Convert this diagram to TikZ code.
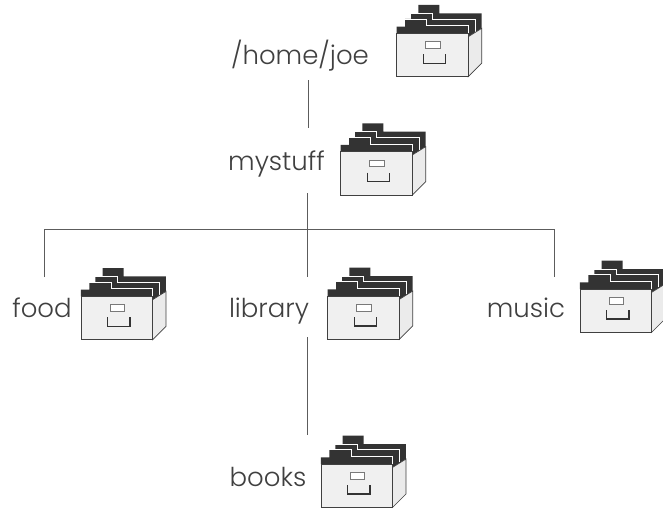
\documentclass[tikz,border=0pt]{standalone}
\usepackage{fontspec}
\setmainfont{Poppins Light}
\definecolor{ink}{gray}{0.25}
\definecolor{dark}{gray}{0.2}
\definecolor{paper}{gray}{0.94}
\definecolor{sidec}{gray}{0.92}
\tikzset{
 lbl/.style={font=\fontsize{26}{28}\selectfont, text=ink, inner sep=0pt, anchor=base},
 conn/.style={draw=ink!85, line width=0.8pt},
 drawerline/.style={draw=ink, line width=0.7pt},
 pics/drawer/.style={code={
  \begin{scope}[x=0.3333pt,y=-0.3333pt]
   \fill[dark] (115,15)--(178,15)--(178,40)--(305,40)--(305,85)--(265,110)--(50,100)--(50,80)--(75,80)--(75,57)--(93,57)--(93,40)--(115,40)--cycle;
   \draw[white,line width=0.6pt] (93,40)--(158,40)--(158,57)--(285,57)--(285,95);
   \draw[white,line width=0.6pt] (75,57)--(140,57)--(140,77)--(265,77)--(265,100);
   \draw[drawerline,fill=sidec] (265,110)--(305,85)--(305,190)--(265,230)--cycle;
   \draw[drawerline,fill=paper] (50,100)--(265,100)--(265,230)--(50,230)--cycle;
   \draw[draw=ink!70,line width=0.7pt,fill=white] (137,125)--(180,125)--(180,145)--(137,145)--cycle;
   \draw[draw=dark,line width=1.4pt] (130,163)--(130,190)--(197,190)--(197,163);
  \end{scope}}}
}
\begin{document}
\begin{tikzpicture}[x=1pt,y=-1pt]
\useasboundingbox[fill=white] (0,0) rectangle (663,511);
\node[lbl] (home) at (300,64) {/home/joe};
\node[lbl] (mystuff) at (276.5,170.5) {mystuff};
\node[lbl] (food) at (42,317) {food};
\node[lbl] (library) at (269,317) {library};
\node[lbl] (music) at (526,317) {music};
\node[lbl] (books) at (268,486.5) {books};
\pic (d1) at (380,0) {drawer};
\pic (d2) at (324,118.3) {drawer};
\pic (d3) at (64.3,263) {drawer};
\pic (d4) at (311,262.7) {drawer};
\pic (d5) at (563.3,255.7) {drawer};
\pic (d6) at (304.3,430.7) {drawer};
\coordinate (a) at (308,80);
\coordinate (b) at (308,128);
\coordinate (c) at (307.5,193);
\coordinate (e) at (307.5,277);
\coordinate (f) at (307,337);
\coordinate (g) at (307,435);
\coordinate (h) at (44.5,277);
\coordinate (i) at (554,277);
\coordinate (hl) at (44.5,229);
\coordinate (hr) at (554,229);
\draw[conn] (a)--(b);
\draw[conn] (c)--(e);
\draw[conn] (f)--(g);
\draw[conn] (h)--(hl)--(hr)--(i);
\end{tikzpicture}
\end{document}
